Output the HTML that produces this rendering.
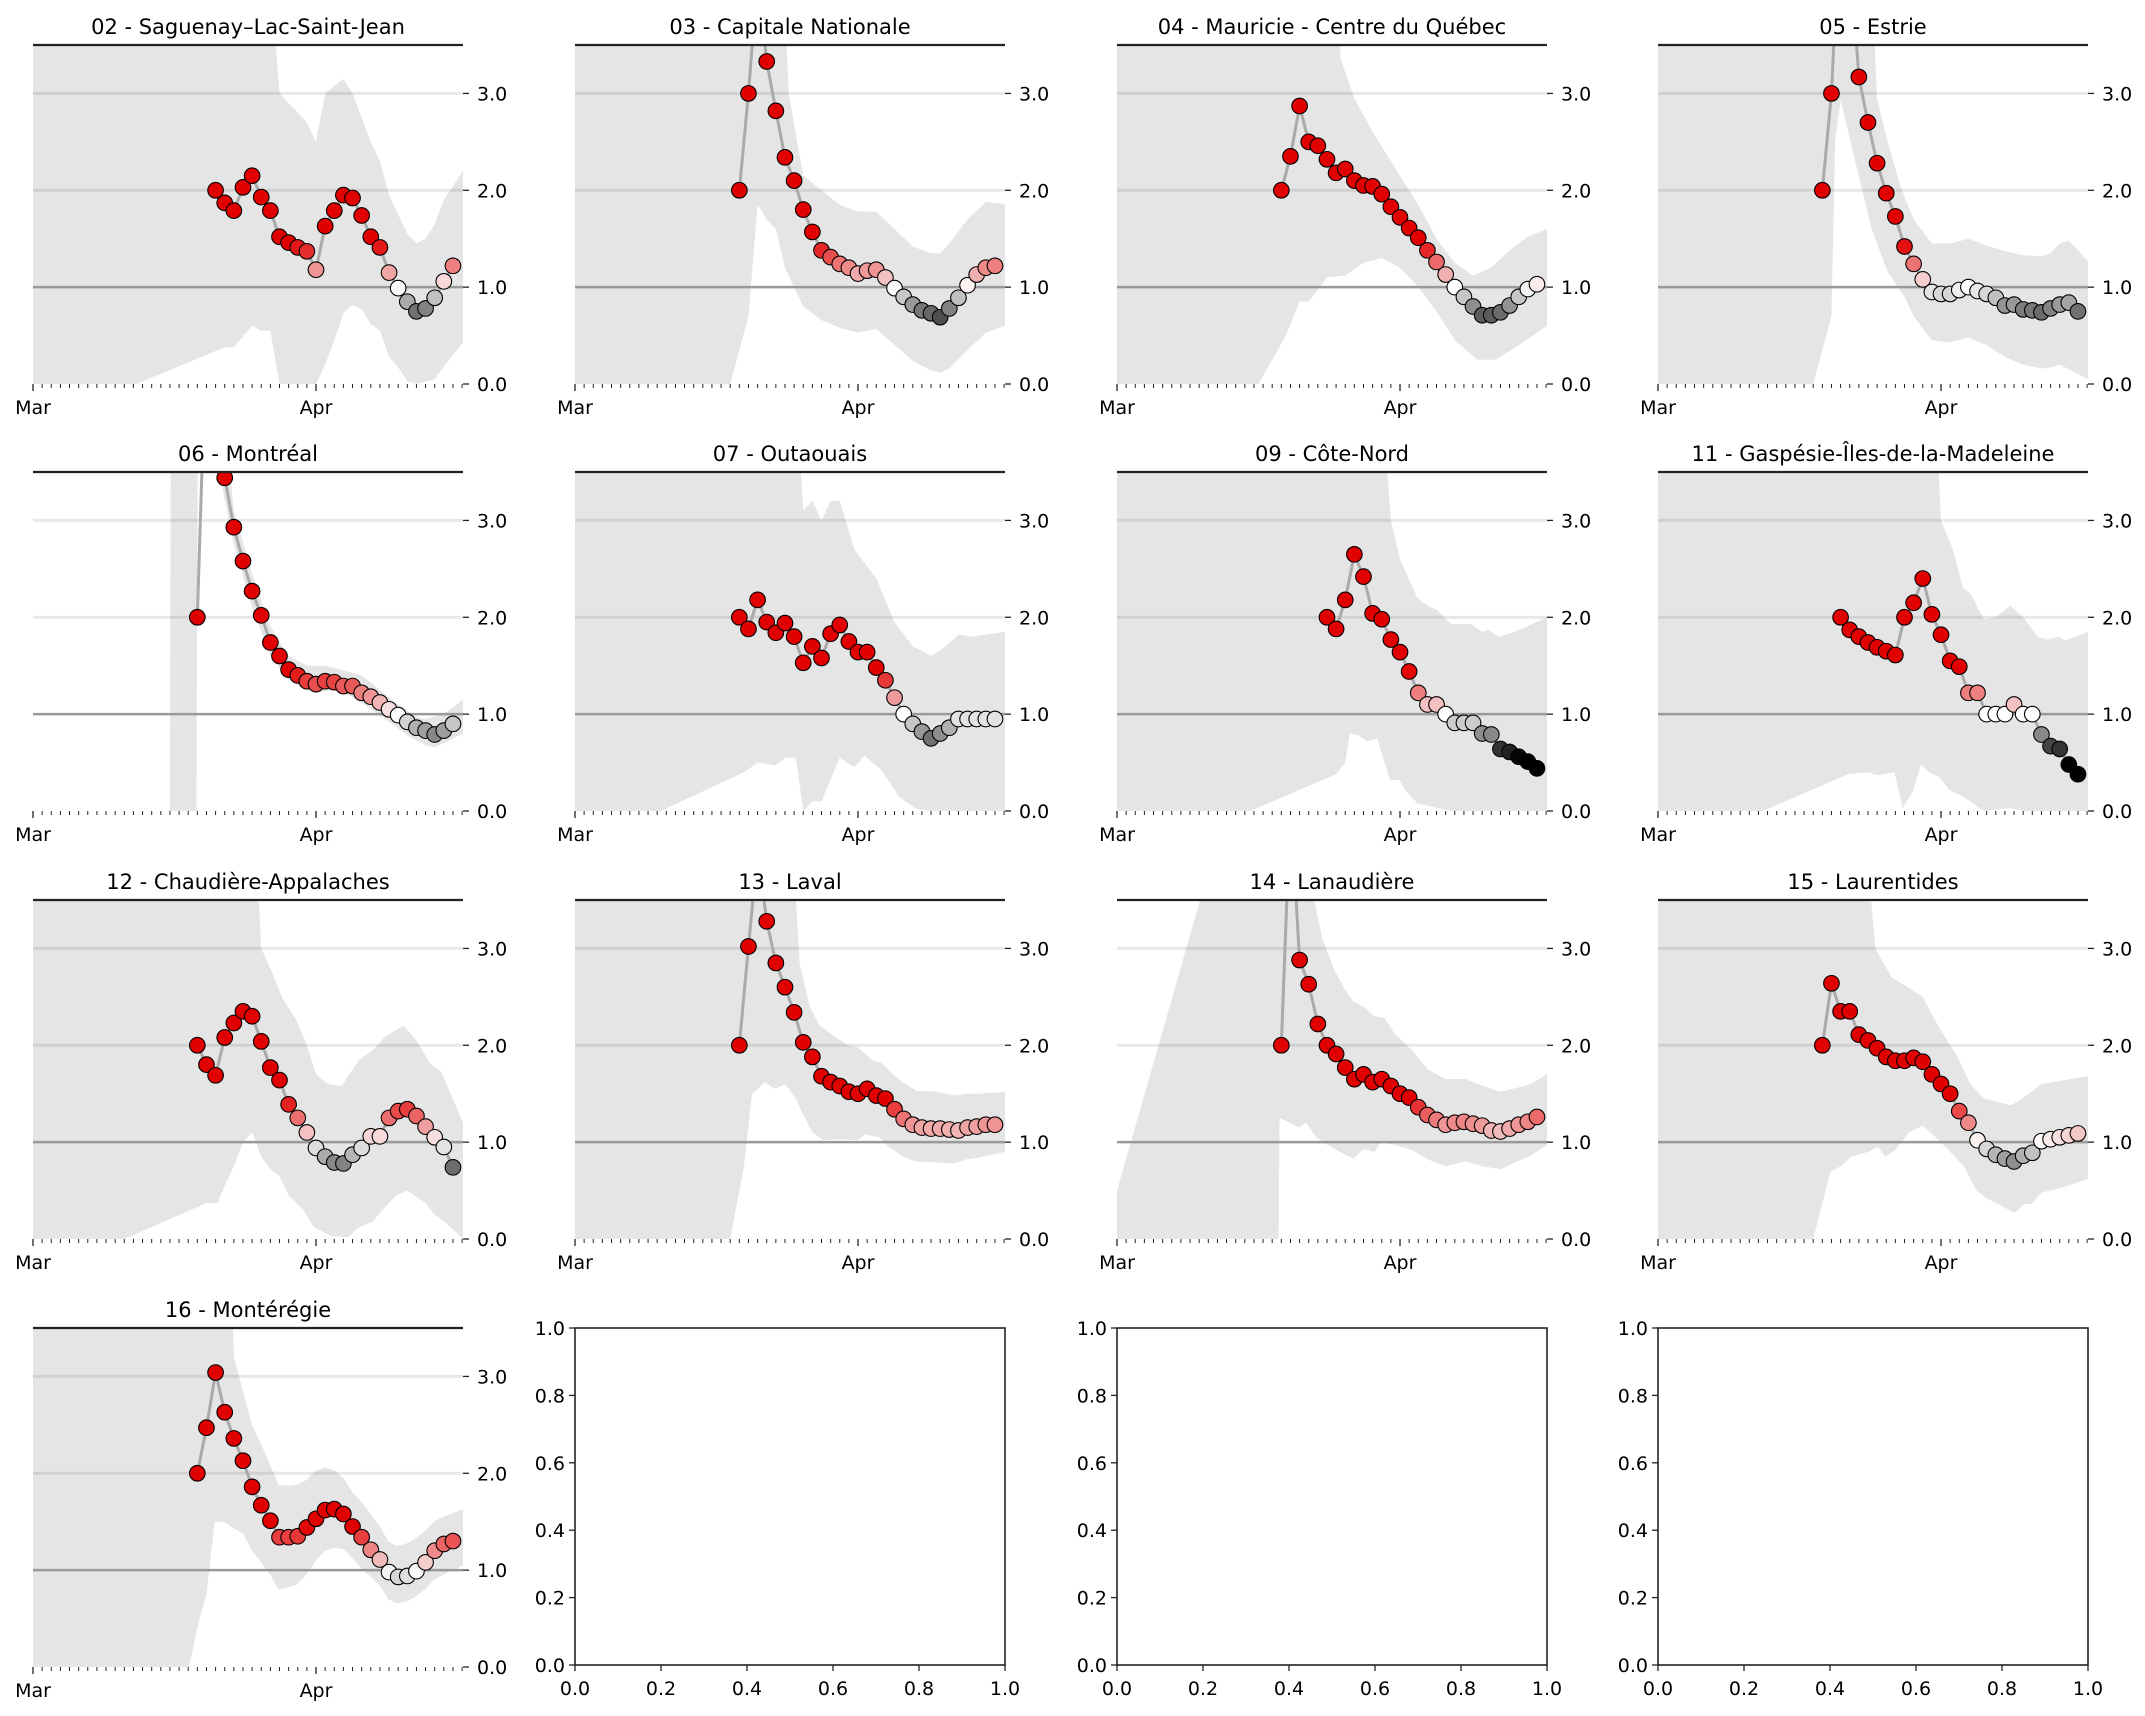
<!DOCTYPE html>
<html><head><meta charset="utf-8"><style>
html,body{margin:0;padding:0;background:#fff}
svg text{font-family:"DejaVu Sans","Liberation Sans",sans-serif;fill:#000}
</style></head><body>
<svg id="fig" width="2145" height="1711" viewBox="0 0 2145 1711" xmlns="http://www.w3.org/2000/svg"></svg>
<script>
const titles = ["02 - Saguenay–Lac-Saint-Jean","03 - Capitale Nationale","04 - Mauricie - Centre du Québec","05 - Estrie","06 - Montréal","07 - Outaouais","09 - Côte-Nord","11 - Gaspésie-Îles-de-la-Madeleine","12 - Chaudière-Appalaches","13 - Laval","14 - Lanaudière","15 - Laurentides","16 - Montérégie"];
const startDays = [20,18,18,18,18,18,23,20,18,18,18,18,18];
const rtValues = [
 [2.0,1.87,1.79,2.03,2.15,1.93,1.79,1.52,1.46,1.41,1.37,1.18,1.63,1.79,1.95,1.92,1.74,1.52,1.41,1.15,0.99,0.85,0.75,0.78,0.89,1.06,1.22],
 [2.0,3.0,4.2,3.33,2.82,2.34,2.1,1.8,1.57,1.38,1.31,1.24,1.2,1.14,1.17,1.18,1.1,0.99,0.9,0.82,0.76,0.73,0.69,0.78,0.89,1.02,1.13,1.2,1.22],
 [2.0,2.35,2.87,2.5,2.46,2.32,2.18,2.22,2.1,2.05,2.04,1.96,1.83,1.72,1.61,1.51,1.38,1.26,1.13,1.0,0.9,0.8,0.71,0.71,0.74,0.81,0.9,0.98,1.03],
 [2.0,3.0,5.0,4.5,3.17,2.7,2.28,1.97,1.73,1.42,1.24,1.08,0.95,0.93,0.93,0.97,1.0,0.96,0.93,0.89,0.81,0.82,0.77,0.76,0.74,0.78,0.82,0.84,0.75],
 [2.0,5.0,4.2,3.44,2.93,2.58,2.27,2.02,1.74,1.6,1.46,1.4,1.34,1.31,1.34,1.33,1.29,1.29,1.22,1.18,1.12,1.05,0.99,0.92,0.86,0.83,0.79,0.83,0.9],
 [2.0,1.88,2.18,1.95,1.84,1.94,1.8,1.53,1.7,1.58,1.83,1.92,1.75,1.64,1.64,1.48,1.35,1.17,1.0,0.9,0.82,0.75,0.8,0.86,0.95,0.95,0.95,0.95,0.95],
 [2.0,1.88,2.18,2.65,2.42,2.04,1.98,1.77,1.64,1.44,1.22,1.1,1.1,1.0,0.91,0.91,0.91,0.8,0.79,0.64,0.61,0.56,0.51,0.44],
 [2.0,1.87,1.8,1.74,1.69,1.65,1.61,2.0,2.15,2.4,2.03,1.82,1.55,1.49,1.22,1.22,1.0,1.0,1.0,1.1,1.0,1.0,0.79,0.67,0.64,0.48,0.38],
 [2.0,1.8,1.69,2.08,2.23,2.35,2.3,2.04,1.77,1.64,1.39,1.25,1.1,0.94,0.85,0.79,0.78,0.87,0.94,1.06,1.06,1.25,1.32,1.34,1.27,1.16,1.05,0.95,0.74],
 [2.0,3.02,4.0,3.28,2.85,2.6,2.34,2.03,1.88,1.68,1.62,1.58,1.52,1.5,1.55,1.48,1.45,1.34,1.24,1.18,1.15,1.14,1.14,1.13,1.12,1.15,1.16,1.18,1.18],
 [2.0,4.5,2.88,2.63,2.22,2.0,1.91,1.77,1.65,1.7,1.62,1.65,1.58,1.5,1.46,1.36,1.28,1.23,1.18,1.2,1.21,1.19,1.17,1.12,1.11,1.14,1.18,1.21,1.26],
 [2.0,2.64,2.35,2.35,2.11,2.05,1.97,1.88,1.84,1.84,1.87,1.83,1.7,1.6,1.5,1.32,1.2,1.02,0.93,0.87,0.83,0.8,0.86,0.89,1.01,1.03,1.05,1.07,1.09],
 [2.0,2.47,3.04,2.63,2.36,2.13,1.86,1.67,1.51,1.34,1.34,1.35,1.44,1.53,1.62,1.63,1.58,1.45,1.34,1.21,1.11,0.98,0.93,0.94,0.99,1.08,1.2,1.27,1.3]
];
const upperDays = [
 [0,25.8,26.6,27,30,31,32,34,35,37,38,39,41,42,43,44,45,47.1],
 [0,22.5,23.4,25,27,29,31,33,35,37,39,40,41,43,45,47.1],
 [0,23.8,24.5,26,28,31,33,35,37,39,41,43,45,47.1],
 [0,23,24,25,26.7,28,30,32,34,36,38,40,42,43,44,45,47.1],
 [0,15,15.1,21,21.5,22,24,26,28,30,32,34,36,38,40,42,43,45,47.1],
 [0,23.8,25,26,27,28,29,30.6,33,35,37,39,40.3,42,43.5,47.1],
 [0,28.5,30,31,32.9,34,35,36.6,38.8,40,40.7,41.8,43.6,47.1],
 [0,30,31,32.3,33.4,34.2,35.7,37,38.6,40,41.6,42.7,43.9,44.6,47.1],
 [0,24,25,26.2,27.3,28.9,30,31,32.3,33.8,35.7,37.2,38.7,40.6,42,43.6,44.7,47.1],
 [0,23.3,24.6,25.7,26.8,28.3,29.9,31,32.5,33.6,34.8,35.9,37.4,39.7,41.6,42.7,44.2,47.1],
 [0,9.1,9.5,21,21.6,22.5,23.7,24.8,25.9,27,28.2,29.3,30.4,32.3,34.1,36,38.2,40.1,42,43.8,45.3,47.1],
 [0,22,23.8,25.6,27,29,30.1,31.2,32.7,34.2,35.7,38.7,40.2,42,43.9,47.1],
 [0,21.4,22,23,24,25,26.9,27.9,28.9,29.9,31,32,33,34,35,36,37,38,38.9,39.8,40.8,41.8,42.9,43.9,44.9,47.1]
];
const upperVals = [
 [5,5,3.5,3.0,2.7,2.5,3.0,3.15,3.0,2.5,2.3,1.95,1.55,1.45,1.5,1.65,1.9,2.2],
 [5,5,3.0,2.15,2.0,1.85,1.78,1.78,1.6,1.42,1.35,1.35,1.45,1.7,1.88,1.86],
 [5,5,3.35,2.95,2.6,2.15,1.85,1.5,1.25,1.12,1.2,1.38,1.52,1.6],
 [5,5,2.95,2.55,2.0,1.7,1.45,1.45,1.5,1.43,1.37,1.33,1.32,1.35,1.45,1.48,1.27],
 [0,0,5,5,3.55,3.1,2.45,1.9,1.6,1.5,1.5,1.45,1.4,1.25,1.1,0.97,0.95,1.0,1.15],
 [5,5,3.1,3.2,3.0,3.2,3.2,2.7,2.4,1.95,1.7,1.6,1.68,1.82,1.8,1.85],
 [5,5,3.0,2.6,2.2,2.12,2.08,1.93,1.93,1.85,1.87,1.8,1.85,2.0],
 [5,5,3.0,2.7,2.3,2.25,1.98,2.0,2.12,2.0,1.8,1.77,1.8,1.76,1.85],
 [5,5,3.0,2.75,2.49,2.25,2.0,1.7,1.6,1.58,1.85,1.95,2.1,2.2,2.05,1.8,1.73,1.2],
 [5,5,2.85,2.4,2.2,2.1,2.0,1.98,1.85,1.82,1.7,1.62,1.53,1.52,1.48,1.5,1.5,1.52],
 [0.5,3.5,5,5,3.5,3.1,2.8,2.6,2.45,2.4,2.3,2.28,2.12,1.95,1.75,1.65,1.65,1.58,1.52,1.56,1.6,1.7],
 [5,5,3.0,2.7,2.62,2.5,2.3,2.12,1.9,1.6,1.45,1.38,1.47,1.6,1.63,1.68],
 [5,5,3.2,2.85,2.5,2.3,1.88,1.87,1.88,1.93,2.03,2.06,2.03,1.95,1.8,1.7,1.58,1.45,1.3,1.25,1.27,1.32,1.4,1.5,1.55,1.63]
];
const lowerDays = [
 [0,11.3,21,22,24,25,26,27,31,32,33,34,35,36,37,38,39,40,41,42,44,45,47.1],
 [0,17,19,20,21,22,23,25,27,29,31,33,35,37,39,40,41,43,45,47.1],
 [0,15.5,18.5,20,21,23,25,27,29,31,33,35,37,39.5,41.5,44,47.1],
 [0,17,19,19.4,20,21.6,23.4,25.2,27,28,30,32,34,36,38,40,42,43,44,47.1],
 [0,17.9,18.1,20.3,20.4,22,24,26,28,30,31,33,35,37,39,41,43,44,45,47.1],
 [0,9.4,18.5,20,22,23,24.2,25,26,27,29,30.6,31.7,33.6,35.5,37.4,39,47.1],
 [0,14.6,24,25,25.5,26.5,27.4,28.5,29.9,30.9,31.7,32.9,34.7,36.6,47.1],
 [0,11.5,20.8,23,24,25.9,26.8,27.9,28.8,29.7,30.8,31.9,33.4,35.7,38.6,40,47.1],
 [0,10,19,20.2,21,22,23,24,25,26.2,27,28,29.6,30.8,32.7,34.5,35.7,37.2,38.3,39.8,41,42.9,44,45.1,47.1],
 [0,17,18.5,19.4,20.8,21.9,23,24.2,25,26,27.2,29,31,31.7,33.3,34.4,35.9,37.4,39.7,41.6,42.7,44.2,47.1],
 [0,17.7,17.8,19.9,20.7,21.8,22.9,24.8,25.9,27,28.2,28.9,30.4,32.3,34.1,36,38.2,40.1,42,43.8,45.3,47.1],
 [0,17,18.9,20,21.2,23,24.1,24.9,26,27.5,29,30.4,32,33.5,34.9,36,37.5,39,40.2,40.9,42,43.9,47.1],
 [0,17.1,18.1,19,19.9,20.9,22,23,24,25,26,26.9,27.9,28.9,29.9,31,32,33,34,35,36,37,38,38.9,39.8,40.8,41.8,42.9,43.9,44.9,47.1]
];
const lowerVals = [
 [0,0,0.38,0.38,0.6,0.55,0.55,0,0,0.2,0.45,0.73,0.82,0.77,0.62,0.55,0.28,0.17,0.03,0,0.05,0.18,0.43],
 [0,0,0.7,1.85,1.7,1.6,1.2,0.8,0.66,0.58,0.53,0.57,0.4,0.24,0.14,0.12,0.16,0.35,0.53,0.6],
 [0,0,0.5,0.85,0.85,1.1,1.12,1.25,1.3,1.2,1.0,0.75,0.45,0.25,0.25,0.4,0.6],
 [0,0,0.7,2.5,2.93,2.3,1.6,1.15,0.9,0.7,0.45,0.43,0.48,0.4,0.28,0.2,0.16,0.17,0.2,0.05],
 [0,0,5,5,3.5,2.75,2.1,1.6,1.35,1.25,1.22,1.25,1.18,1.05,0.92,0.78,0.68,0.66,0.7,0.8],
 [0,0,0.4,0.5,0.47,0.55,0.55,0,0.1,0.1,0.55,0.45,0.57,0.42,0.15,0.02,0,0],
 [0,0,0.38,0.5,0.8,0.78,0.72,0.75,0.32,0.32,0.2,0.08,0.04,0,0],
 [0,0,0.38,0.4,0.37,0.4,0.03,0.2,0.48,0.4,0.35,0.22,0.15,0,0.03,0,0],
 [0,0,0.37,0.37,0.55,0.75,1.0,1.1,0.85,0.7,0.65,0.45,0.3,0.12,0.03,0.02,0.12,0.18,0.3,0.45,0.5,0.38,0.25,0.18,0],
 [0,0,0.75,1.5,1.62,1.55,1.6,1.45,1.28,1.1,1.02,1.03,1.02,1.08,1.05,0.95,0.85,0.8,0.79,0.78,0.82,0.84,0.9],
 [0,0,1.25,1.15,1.2,1.05,0.98,0.88,0.83,0.93,0.9,1.0,0.97,0.92,0.82,0.75,0.8,0.75,0.72,0.8,0.86,0.97],
 [0,0,0.7,0.75,0.85,0.9,0.95,0.85,0.92,1.1,1.17,1.05,0.9,0.75,0.5,0.42,0.35,0.27,0.36,0.36,0.48,0.52,0.62],
 [0,0,0.45,0.75,1.5,1.5,1.43,1.38,1.2,1.08,0.95,0.8,0.82,0.85,0.95,1.1,1.2,1.23,1.22,1.12,1.02,0.93,0.84,0.7,0.66,0.67,0.72,0.8,0.9,0.95,1.05]
];
const yTicks = [0,1,2,3];
const yTickLabels = ["0.0","1.0","2.0","3.0"];
const monthDays = [0,31];
const monthLabels = ["Mar","Apr"];
const emptyTicks = [0,0.2,0.4,0.6,0.8,1.0];
const emptyTickLabels = ["0.0","0.2","0.4","0.6","0.8","1.0"];

const NS = "http://www.w3.org/2000/svg";
const svg = document.getElementById("fig");
const colLeft = [33,575,1117,1658], rowTop = [45,472,900,1328];
const PW = 430, PH = 339, XMAX = 47.1, YMAX = 3.5;
function mk(tag, attrs, parent){const e=document.createElementNS(NS,tag);for(const k in attrs)e.setAttribute(k,attrs[k]);(parent||svg).appendChild(e);return e;}
function color(v){
  if(v>=1){const t=Math.min(1,(v-1)/0.45);
    const base=Math.round(255-Math.min(t,0.3)*40*(1-t));
    return `rgb(${Math.round(base-(base-225)*t)},${Math.round(base*(1-t))},${Math.round(base*(1-t))})`;}
  const t=Math.min(1,(1-v)/0.45);const c=Math.round(255*(1-t));return `rgb(${c},${c},${c})`;
}
titles.forEach((title,i)=>{
  const L=colLeft[i%4], T=rowTop[Math.floor(i/4)];
  const xs=d=>L+d/XMAX*PW, ys=v=>T+PH-v/YMAX*PH;
  const g=mk("g",{});
  
  
  const cp=mk("clipPath",{id:"cp"+i},g); mk("rect",{x:L,y:T,width:PW,height:PH},cp);
  const plot=mk("g",{"clip-path":`url(#cp${i})`},g);
  let pts=upperDays[i].map((d,k)=>xs(d)+","+ys(upperVals[i][k]));
  for(let k=lowerDays[i].length-1;k>=0;k--)pts.push(xs(lowerDays[i][k])+","+ys(lowerVals[i][k]));
  const band=mk("polygon",{points:pts.join(" "),fill:"#e5e5e5"},plot);
  
  
  [2,3].forEach(v=>{const gl=mk("line",{x1:L,x2:L+PW,y1:ys(v),y2:ys(v),stroke:"rgba(0,0,0,0.09)","stroke-width":3},plot);
    
    });
  const ref=mk("line",{x1:L,x2:L+PW,y1:ys(1),y2:ys(1),stroke:"#999","stroke-width":2.5},plot);
  
  
  const vals=rtValues[i], s=startDays[i];
  const line=mk("polyline",{points:vals.map((v,k)=>xs(s+k)+","+ys(v)).join(" "),fill:"none",stroke:"#aaa","stroke-width":3},plot);
  
  
  vals.forEach((v,k)=>{const c=mk("circle",{cx:xs(s+k),cy:ys(v),r:7.8,fill:color(v),stroke:"#000","stroke-width":1.1},plot);
    
    });
  const top=mk("line",{x1:L,x2:L+PW,y1:T,y2:T,stroke:"#222","stroke-width":2.2},g);
  
  
  yTicks.forEach((v,k)=>{mk("line",{x1:L+PW,x2:L+PW+6,y1:ys(v),y2:ys(v),stroke:"#222","stroke-width":1.3},g);
    const t=mk("text",{x:L+PW+14,y:ys(v)+7,"font-size":19},g);t.textContent=yTickLabels[k];
    
    });
  for(let d=0;d<=47;d++){const major=monthDays.includes(d);
    mk("line",{x1:xs(d),x2:xs(d),y1:T+PH,y2:T+PH+(major?7:4),stroke:"#222","stroke-width":major?1.3:1},g);}
  monthDays.forEach((d,k)=>{const t=mk("text",{x:xs(d),y:T+PH+30,"font-size":19,"text-anchor":"middle"},g);t.textContent=monthLabels[k];
    
    });
  const tt=mk("text",{x:L+PW/2,y:T-11,"font-size":21,"text-anchor":"middle"},g);tt.textContent=title;
  
  
});
for(let c=1;c<4;c++){
  const L=colLeft[c], T=rowTop[3], B=T+337;
  const g=mk("g",{});
  
  
  mk("rect",{x:L,y:T,width:PW,height:337,fill:"none",stroke:"#222","stroke-width":1.6},g);
  emptyTicks.forEach((v,k)=>{
    const y=B-v*337, x=L+v*PW;
    mk("line",{x1:L-6,x2:L,y1:y,y2:y,stroke:"#222","stroke-width":1.3},g);
    const a=mk("text",{x:L-10,y:y+7,"font-size":19,"text-anchor":"end"},g);a.textContent=emptyTickLabels[k];
    
    
    mk("line",{x1:x,x2:x,y1:B,y2:B+6,stroke:"#222","stroke-width":1.3},g);
    const b=mk("text",{x:x,y:B+30,"font-size":19,"text-anchor":"middle"},g);b.textContent=emptyTickLabels[k];
    
    
  });
}
</script>
</body></html>
